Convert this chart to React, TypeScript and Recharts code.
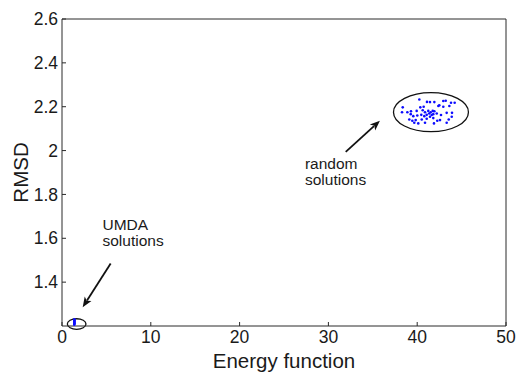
import React from 'react';
import {
  ScatterChart, Scatter, XAxis, YAxis, ReferenceArea, ReferenceLine, ReferenceDot, Label,
} from 'recharts';

// random solutions (energy, rmsd)
const randomEnergy = [
  40.24, 41.10, 41.44, 41.93, 42.94, 43.21, 43.81, 44.22, 38.37, 40.35,
  40.73, 42.38, 42.49, 42.94, 43.62, 38.29, 38.89, 39.30, 39.94, 40.62,
  40.88, 41.25, 41.52, 41.75, 41.93, 42.68, 43.32, 43.92, 39.56, 40.46,
  40.80, 41.07, 41.36, 41.63, 41.81, 42.20, 43.89, 39.11, 39.45, 39.83,
  40.51, 41.07, 41.81, 42.26, 43.55, 39.67, 40.12, 40.88, 41.89, 43.32,
  42.57, 41.44, 40.01, 39.27,
];
const randomRmsd = [
  2.233, 2.222, 2.221, 2.221, 2.226, 2.227, 2.218, 2.218, 2.197, 2.197,
  2.200, 2.203, 2.207, 2.200, 2.203, 2.175, 2.175, 2.179, 2.181, 2.184,
  2.175, 2.181, 2.175, 2.181, 2.179, 2.162, 2.172, 2.172, 2.157, 2.163,
  2.157, 2.163, 2.169, 2.162, 2.166, 2.169, 2.154, 2.142, 2.136, 2.139,
  2.142, 2.145, 2.148, 2.136, 2.142, 2.127, 2.124, 2.127, 2.124, 2.127,
  2.139, 2.154, 2.160, 2.166,
];

// UMDA solutions
const umdaEnergy = [1.38, 1.40, 1.39, 1.41, 1.38, 1.40, 1.39, 1.41, 1.39];
const umdaRmsd = [1.206, 1.209, 1.212, 1.215, 1.218, 1.221, 1.224, 1.227, 1.230];

const xTicks = [0, 10, 20, 30, 40, 50];
const yTicks = [1.4, 1.6, 1.8, 2, 2.2, 2.4, 2.6];

const randomData = randomEnergy.map((x, i) => ({ x, y: randomRmsd[i] }));
const umdaData = umdaEnergy.map((x, i) => ({ x, y: umdaRmsd[i] }));

const FONT = '"Liberation Sans", Arial, Helvetica, sans-serif';
const AXIS = '#2a2a2a';

const dot = (props: any) => <circle cx={props.cx} cy={props.cy} r={1.3} fill="#0c0cff" />;

const ellipse = (props: any) => (
  <ellipse
    cx={props.x + props.width / 2}
    cy={props.y + props.height / 2}
    rx={Math.abs(props.width) / 2}
    ry={Math.abs(props.height) / 2}
    fill="none"
    stroke="#111"
    strokeWidth={1.3}
  />
);

const arrow = (props: any) => {
  const { x1, y1, x2, y2 } = props;
  const dx = x2 - x1;
  const dy = y2 - y1;
  const len = Math.sqrt(dx * dx + dy * dy);
  const ux = dx / len;
  const uy = dy / len;
  const hl = 10;
  const hw = 4;
  const bx = x2 - ux * hl;
  const by = y2 - uy * hl;
  return (
    <g>
      <line x1={x1} y1={y1} x2={bx + ux * 2} y2={by + uy * 2} stroke="#111" strokeWidth={1.8} />
      <polygon
        points={`${x2},${y2} ${bx - uy * hw},${by + ux * hw} ${bx + ux * 2.5},${by + uy * 2.5} ${bx + uy * hw},${by - ux * hw}`}
        fill="#111"
      />
    </g>
  );
};

const note = (lines: string[]) => (props: any) => (
  <text x={props.cx} y={props.cy} fontFamily={FONT} fontSize={15.5} fill="#1a1a1a">
    {lines.map((l, i) => (
      <tspan key={i} x={props.cx} dy={i === 0 ? 0 : 16.5}>{l}</tspan>
    ))}
  </text>
);

const App: React.FC = () => {
  return (
    <div style={{ position: 'absolute', left: 0, top: 0, background: '#fff' }}>
      <ScatterChart width={516} height={373} margin={{ top: 19, right: 10, bottom: 0, left: 0 }}>
        <XAxis
          type="number"
          dataKey="x"
          domain={[0, 50]}
          ticks={xTicks}
          allowDataOverflow
          height={47}
          tickSize={-4}
          tickMargin={9}
          stroke={AXIS}
          tick={{ fill: '#1a1a1a', fontSize: 17.5, fontFamily: FONT }}
        >
          <Label
            content={(p: any) => (
              <text
                x={p.viewBox.x + p.viewBox.width / 2}
                y={p.viewBox.y + 42}
                textAnchor="middle"
                fontFamily={FONT}
                fontSize={20.5}
                fill="#1a1a1a"
              >
                Energy function
              </text>
            )}
          />
        </XAxis>
        <YAxis
          type="number"
          dataKey="y"
          domain={[1.2, 2.6]}
          ticks={yTicks}
          allowDataOverflow
          width={62}
          tickSize={-4}
          tickMargin={8}
          stroke={AXIS}
          tick={{ fill: '#1a1a1a', fontSize: 17.5, fontFamily: FONT }}
        >
          <Label
            content={(p: any) => {
              const cx = p.viewBox.x + 20;
              const cy = p.viewBox.y + p.viewBox.height / 2;
              return (
                <text
                  x={cx}
                  y={cy}
                  transform={`rotate(-90 ${cx} ${cy})`}
                  textAnchor="middle"
                  dominantBaseline="central"
                  fontFamily={FONT}
                  fontSize={20.5}
                  fill="#1a1a1a"
                >
                  RMSD
                </text>
              );
            }}
          />
        </YAxis>
        <ReferenceLine y={2.6} stroke={AXIS} />
        <ReferenceLine x={50} stroke={AXIS} />

        <ReferenceArea x1={37.33} x2={45.77} y1={2.086} y2={2.264} ifOverflow="visible" shape={ellipse} />
        <ReferenceArea x1={0.6} x2={2.7} y1={1.185} y2={1.233} ifOverflow="visible" shape={ellipse} />

        <Scatter data={randomData} shape={dot} isAnimationActive={false} />
        <Scatter data={umdaData} shape={dot} isAnimationActive={false} />

        <ReferenceLine
          segment={[{ x: 31.95, y: 1.994 }, { x: 35.8, y: 2.136 }]}
          ifOverflow="visible"
          shape={arrow}
        />
        <ReferenceLine
          segment={[{ x: 5.48, y: 1.485 }, { x: 2.33, y: 1.286 }]}
          ifOverflow="visible"
          shape={arrow}
        />

        <ReferenceDot x={27.36} y={1.918} ifOverflow="visible" shape={note(['random', 'solutions'])} />
        <ReferenceDot x={4.56} y={1.639} ifOverflow="visible" shape={note(['UMDA', 'solutions'])} />
      </ScatterChart>
    </div>
  );
};

export default App;
